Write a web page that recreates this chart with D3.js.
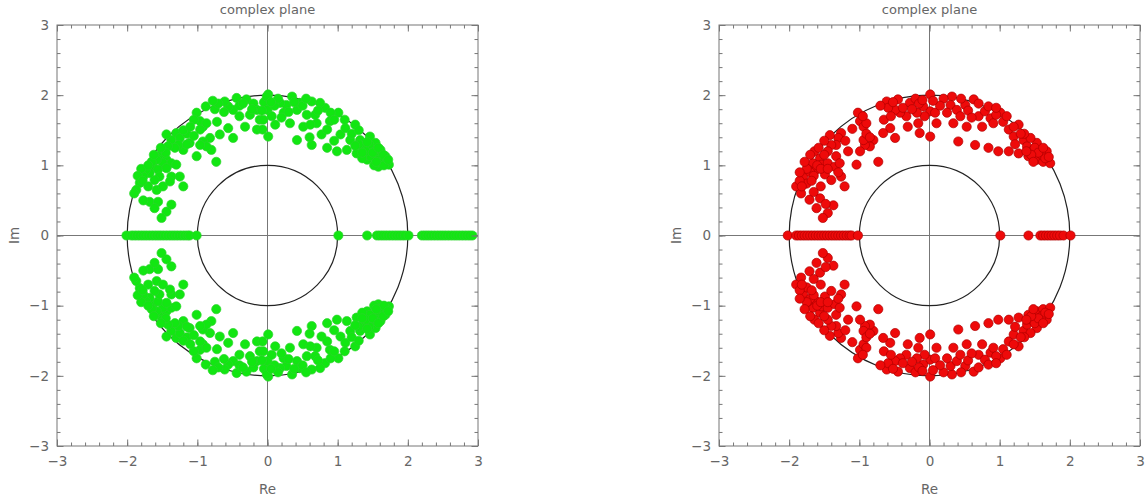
<!DOCTYPE html>
<html>
<head>
<meta charset="utf-8">
<script src="https://cdn.jsdelivr.net/npm/d3@7"></script>
<style>
  body { margin: 0; background: #fff; }
  svg { display: block; }
</style>
</head>
<body>
<svg id="chart" width="1146" height="504"></svg>
<script>
// roots, upper half plane (green panel)
const greenUpper = [
  [0.01,2.01],[-0.01,1.84],[0.01,1.41],[-0.15,1.79],[-0.11,1.65],[-0.15,1.51],[-0.30,1.94],[-0.25,1.72],
  [-0.32,1.55],[-0.44,1.96],[-0.49,1.79],[-0.49,1.39],[-0.56,1.84],[-0.61,1.91],[-0.56,1.53],[-0.68,1.44],
  [-0.73,1.05],[-0.82,1.39],[-0.80,1.22],[-0.92,1.34],[-0.87,1.27],[-0.96,1.29],[-1.01,1.13],[-0.92,1.55],
  [-0.96,1.63],[-1.01,1.75],[-0.87,1.60],[-0.96,1.51],[-1.11,1.32],[-1.20,1.22],[-1.30,1.46],[-1.25,1.39],
  [-1.37,1.36],[-1.27,1.29],[-1.32,1.25],[-1.42,1.27],[-1.44,1.44],[-1.54,1.13],[-1.44,1.08],[-1.49,1.03],
  [-1.58,1.08],[-1.37,1.03],[-1.30,1.01],[-1.63,0.98],[-1.56,0.94],[-1.44,0.96],[-1.25,0.84],[-1.37,0.84],
  [-1.20,0.70],[-1.54,0.84],[-1.61,0.79],[-1.68,0.89],[-1.73,0.94],[-1.77,0.84],[-1.82,0.75],[-1.70,0.70],
  [-1.58,0.65],[-1.49,0.70],[-1.39,0.77],[-1.87,0.65],[-1.68,0.48],[-1.56,0.48],[-1.37,0.44],[-1.44,0.34],
  [-1.51,0.25],[-1.61,0.39],[-1.77,0.50],[-1.15,1.45],[-1.20,1.50],[-1.05,1.65],[-0.75,1.80],[-0.70,1.88],
  [-0.40,1.85],[-0.20,1.88],[-0.05,1.90],[-1.50,1.20],[-1.65,1.05],[-1.80,0.95],[-1.85,0.85],
  [-0.01,1.98],[0.00,1.79],[0.06,1.70],[0.11,1.58],[-0.07,1.51],[0.35,1.98],[0.27,1.86],[0.42,1.79],
  [0.32,1.60],[0.42,1.36],[0.51,1.55],[0.56,1.72],[0.63,1.91],[0.63,1.29],[0.70,1.60],[0.77,1.44],
  [0.82,1.82],[0.85,1.25],[0.89,1.63],[0.99,1.20],[1.01,1.75],[1.04,1.44],[1.11,1.53],[1.13,1.22],
  [1.18,1.36],[1.25,1.58],[1.27,1.17],[1.32,1.36],[1.37,1.25],[1.42,1.08],[1.46,1.41],[1.51,1.27],
  [1.56,1.13],[1.61,1.03],[1.68,1.13],[1.73,1.01],[1.46,1.13],[1.35,1.10],[1.54,1.32],[1.61,1.22],
  [0.18,1.89],[0.23,1.75],[0.61,1.58],[0.46,1.89],[0.75,1.89],[0.68,1.72],[0.85,1.51],[-0.06,1.65],
  [0.10,1.85],[0.15,1.95],[0.50,1.85],[0.90,1.75],[1.20,1.45],[1.45,1.30],[1.62,1.10],[1.70,1.05],
  [1.58,0.98],[1.52,1.00],[1.66,1.00],[1.40,1.20],[1.30,1.30],
  [-0.35,1.88],[-0.22,1.80],[-0.08,1.78],[0.05,1.90],[0.20,1.68],[0.30,1.76],[0.38,1.90],[-0.40,1.70],
  [-0.62,1.76],[-0.72,1.62],[-0.78,1.92],[-0.88,1.84],[-1.10,1.55],[-1.05,1.42],[-1.15,1.30],[-1.45,1.18],
  [-1.52,1.25],[-1.62,1.15],[-1.70,1.00],[-1.78,0.78],[-1.90,0.60],[0.55,1.95],[0.72,1.78],[0.95,1.65],
  [1.10,1.65],[1.30,1.50],[1.50,1.18],[1.55,1.05],[1.65,1.15],[1.72,1.08],[1.42,1.33],[1.35,1.18],
  [1.25,1.28],[1.58,1.25],[0.95,1.35],[0.60,1.40]
];
const greenLower = [
  [0.01,-2.01],[-0.01,-1.84],[0.01,-1.41],[-0.15,-1.79],[-0.11,-1.65],[-0.15,-1.51],[-0.30,-1.94],[-0.25,-1.72],
  [-0.32,-1.55],[-0.44,-1.96],[-0.49,-1.79],[-0.49,-1.39],[-0.56,-1.84],[-0.61,-1.91],[-0.56,-1.53],[-0.68,-1.44],
  [-0.73,-1.05],[-0.82,-1.39],[-0.80,-1.22],[-0.92,-1.34],[-0.87,-1.27],[-0.96,-1.29],[-1.01,-1.13],[-0.92,-1.55],
  [-0.96,-1.63],[-1.01,-1.75],[-0.87,-1.60],[-0.96,-1.51],[-1.11,-1.32],[-1.20,-1.22],[-1.30,-1.46],[-1.25,-1.39],
  [-1.37,-1.36],[-1.27,-1.29],[-1.32,-1.25],[-1.42,-1.27],[-1.44,-1.44],[-1.54,-1.13],[-1.44,-1.08],[-1.49,-1.03],
  [-1.58,-1.08],[-1.37,-1.03],[-1.30,-1.01],[-1.63,-0.98],[-1.56,-0.94],[-1.44,-0.96],[-1.25,-0.84],[-1.37,-0.84],
  [-1.20,-0.70],[-1.54,-0.84],[-1.61,-0.79],[-1.68,-0.89],[-1.73,-0.94],[-1.77,-0.84],[-1.82,-0.75],[-1.70,-0.70],
  [-1.58,-0.65],[-1.49,-0.70],[-1.39,-0.77],[-1.87,-0.65],[-1.68,-0.48],[-1.56,-0.48],[-1.37,-0.44],[-1.44,-0.34],
  [-1.51,-0.25],[-1.61,-0.39],[-1.77,-0.50],[-1.15,-1.45],[-1.20,-1.50],[-1.05,-1.65],[-0.75,-1.80],[-0.70,-1.88],
  [-0.40,-1.85],[-0.20,-1.88],[-0.05,-1.90],[-1.50,-1.20],[-1.65,-1.05],[-1.80,-0.95],[-1.85,-0.85],
  [-0.01,-1.98],[0.00,-1.79],[0.06,-1.70],[0.11,-1.58],[-0.07,-1.51],[0.35,-1.98],[0.27,-1.86],[0.42,-1.79],
  [0.32,-1.60],[0.42,-1.36],[0.51,-1.55],[0.56,-1.72],[0.63,-1.91],[0.63,-1.29],[0.70,-1.60],[0.77,-1.44],
  [0.82,-1.82],[0.85,-1.25],[0.89,-1.63],[0.99,-1.20],[1.01,-1.75],[1.04,-1.44],[1.11,-1.53],[1.13,-1.22],
  [1.18,-1.36],[1.25,-1.58],[1.27,-1.17],[1.32,-1.36],[1.37,-1.25],[1.42,-1.08],[1.46,-1.41],[1.51,-1.27],
  [1.56,-1.13],[1.61,-1.03],[1.68,-1.13],[1.73,-1.01],[1.46,-1.13],[1.35,-1.10],[1.54,-1.32],[1.61,-1.22],
  [0.18,-1.89],[0.23,-1.75],[0.61,-1.58],[0.46,-1.89],[0.75,-1.89],[0.68,-1.72],[0.85,-1.51],[-0.06,-1.65],
  [0.10,-1.85],[0.15,-1.95],[0.50,-1.85],[0.90,-1.75],[1.20,-1.45],[1.45,-1.30],[1.62,-1.10],[1.70,-1.05],
  [1.58,-0.98],[1.52,-1.00],[1.66,-1.00],[1.40,-1.20],[1.30,-1.30],
  [-0.35,-1.88],[-0.22,-1.80],[-0.08,-1.78],[0.05,-1.90],[0.20,-1.68],[0.30,-1.76],[0.38,-1.90],[-0.40,-1.70],
  [-0.62,-1.76],[-0.72,-1.62],[-0.78,-1.92],[-0.88,-1.84],[-1.10,-1.55],[-1.05,-1.42],[-1.15,-1.30],[-1.45,-1.18],
  [-1.52,-1.25],[-1.62,-1.15],[-1.70,-1.00],[-1.78,-0.78],[-1.90,-0.60],[0.55,-1.95],[0.72,-1.78],[0.95,-1.65],
  [1.10,-1.65],[1.30,-1.50],[1.50,-1.18],[1.55,-1.05],[1.65,-1.15],[1.72,-1.08],[1.42,-1.33],[1.35,-1.18],
  [1.25,-1.28],[1.58,-1.25],[0.95,-1.35],[0.60,-1.40]
];
// real roots (green panel)
const greenReal = [
  -2.01,-1.94,-1.90,-1.86,-1.82,-1.78,-1.74,-1.70,-1.66,-1.62,-1.58,-1.54,-1.50,-1.46,-1.42,
  -1.38,-1.34,-1.30,-1.26,-1.22,-1.18,-1.14,-1.11,-1.01,
  1.01,1.42,1.56,1.60,1.64,1.68,1.72,1.76,1.80,1.84,1.88,1.92,1.96,2.01,
  2.20,2.24,2.28,2.32,2.36,2.40,2.44,2.48,2.52,2.56,2.60,2.64,2.68,2.72,2.76,2.80,2.84,2.88,2.92
];

// roots, upper half plane (red panel)
const redUpper = [
  [0.01,2.01],[0.01,1.77],[0.01,1.41],[-0.14,1.46],[-0.09,1.84],[-0.07,1.70],[-0.18,1.75],[-0.28,1.89],
  [-0.31,1.55],[-0.33,1.70],[-0.42,1.75],[-0.45,1.94],[-0.49,1.79],[-0.61,1.91],[-0.59,1.82],[-0.56,1.53],
  [-0.49,1.39],[-0.66,1.46],[-0.73,1.05],[-0.80,1.36],[-0.85,1.27],[-0.92,1.29],[-0.94,1.36],[-0.99,1.20],
  [-1.04,1.01],[-1.02,1.75],[-0.99,1.63],[-0.94,1.55],[-0.90,1.60],[-1.16,1.20],[-1.26,1.46],[-1.30,1.39],
  [-1.33,1.29],[-1.42,1.43],[-1.40,1.29],[-1.33,1.13],[-1.64,1.20],[-1.56,1.10],[-1.66,1.03],[-1.54,1.01],
  [-1.45,1.03],[-1.35,0.98],[-1.28,1.03],[-1.73,0.94],[-1.61,0.94],[-1.49,0.87],[-1.40,0.79],[-1.26,0.84],
  [-1.21,0.70],[-1.80,0.84],[-1.90,0.70],[-1.83,0.60],[-1.71,0.51],[-1.56,0.53],[-1.61,0.39],[-1.45,0.32],
  [-1.37,0.43],[-1.52,0.25],[-1.75,0.74],[-0.20,1.95],[-0.15,1.88],[-0.65,1.65],[-0.55,1.70],[-0.38,1.82],
  [-0.90,1.45],[-0.85,1.40],[-1.45,1.20],[-1.50,1.15],[-1.60,1.00],[-1.70,0.90],[-1.75,0.95],[-1.85,0.78],
  [-1.82,0.70],[-1.65,0.85],[-1.55,0.95],
  [0.32,1.98],[0.30,1.86],[0.39,1.79],[0.34,1.60],[0.41,1.34],[0.44,1.70],[0.51,1.86],[0.53,1.55],
  [0.63,1.94],[0.65,1.29],[0.70,1.70],[0.75,1.55],[0.79,1.77],[0.84,1.84],[0.84,1.25],[0.87,1.67],
  [0.91,1.60],[0.98,1.20],[1.01,1.75],[1.13,1.20],[1.13,1.51],[1.20,1.41],[1.27,1.58],[1.27,1.17],
  [1.34,1.36],[1.39,1.27],[1.41,1.13],[1.48,1.22],[1.53,1.08],[1.58,1.17],[1.62,1.05],[1.67,1.20],
  [1.72,1.03],[1.53,1.32],[1.44,1.39],[-0.16,1.60],[0.10,1.60],[0.08,1.75],[0.20,1.95],[0.15,1.85],
  [0.55,1.78],[0.60,1.68],[0.95,1.72],[1.05,1.62],[1.20,1.55],[1.35,1.45],[1.50,1.25],[1.60,1.15],
  [1.65,1.10],[1.55,1.18],[1.45,1.15],
  [-0.25,1.80],[-0.10,1.93],[0.05,1.92],[0.25,1.75],[0.45,1.95],[0.70,1.88],[0.95,1.82],[1.10,1.70],
  [1.30,1.45],[1.62,1.25],[1.70,1.12],[1.48,1.05],[1.38,1.20],[1.22,1.30],[-0.52,1.90],[-0.70,1.85],
  [-0.95,1.70],[-1.10,1.52],[-1.20,1.35],[-1.50,1.35],[-1.58,1.25],[-1.70,1.15],[-1.78,1.05],[-1.85,0.90],
  [-1.68,0.78],[-1.45,0.95],[-1.30,0.90],[-1.55,0.70],[-1.65,0.62],[-1.48,0.45]
];
const redLower = [
  [0.01,-2.01],[0.01,-1.77],[0.01,-1.41],[-0.14,-1.46],[-0.09,-1.84],[-0.07,-1.70],[-0.18,-1.75],[-0.28,-1.89],
  [-0.31,-1.55],[-0.33,-1.70],[-0.42,-1.75],[-0.45,-1.94],[-0.49,-1.79],[-0.61,-1.91],[-0.59,-1.82],[-0.56,-1.53],
  [-0.49,-1.39],[-0.66,-1.46],[-0.73,-1.05],[-0.80,-1.36],[-0.85,-1.27],[-0.92,-1.29],[-0.94,-1.36],[-0.99,-1.20],
  [-1.04,-1.01],[-1.02,-1.75],[-0.99,-1.63],[-0.94,-1.55],[-0.90,-1.60],[-1.16,-1.20],[-1.26,-1.46],[-1.30,-1.39],
  [-1.33,-1.29],[-1.42,-1.43],[-1.40,-1.29],[-1.33,-1.13],[-1.64,-1.20],[-1.56,-1.10],[-1.66,-1.03],[-1.54,-1.01],
  [-1.45,-1.03],[-1.35,-0.98],[-1.28,-1.03],[-1.73,-0.94],[-1.61,-0.94],[-1.49,-0.87],[-1.40,-0.79],[-1.26,-0.84],
  [-1.21,-0.70],[-1.80,-0.84],[-1.90,-0.70],[-1.83,-0.60],[-1.71,-0.51],[-1.56,-0.53],[-1.61,-0.39],[-1.45,-0.32],
  [-1.37,-0.43],[-1.52,-0.25],[-1.75,-0.74],[-0.20,-1.95],[-0.15,-1.88],[-0.65,-1.65],[-0.55,-1.70],[-0.38,-1.82],
  [-0.90,-1.45],[-0.85,-1.40],[-1.45,-1.20],[-1.50,-1.15],[-1.60,-1.00],[-1.70,-0.90],[-1.75,-0.95],[-1.85,-0.78],
  [-1.82,-0.70],[-1.65,-0.85],[-1.55,-0.95],
  [0.32,-1.98],[0.30,-1.86],[0.39,-1.79],[0.34,-1.60],[0.41,-1.34],[0.44,-1.70],[0.51,-1.86],[0.53,-1.55],
  [0.63,-1.94],[0.65,-1.29],[0.70,-1.70],[0.75,-1.55],[0.79,-1.77],[0.84,-1.84],[0.84,-1.25],[0.87,-1.67],
  [0.91,-1.60],[0.98,-1.20],[1.01,-1.75],[1.13,-1.20],[1.13,-1.51],[1.20,-1.41],[1.27,-1.58],[1.27,-1.17],
  [1.34,-1.36],[1.39,-1.27],[1.41,-1.13],[1.48,-1.22],[1.53,-1.08],[1.58,-1.17],[1.62,-1.05],[1.67,-1.20],
  [1.72,-1.03],[1.53,-1.32],[1.44,-1.39],[-0.16,-1.60],[0.10,-1.60],[0.08,-1.75],[0.20,-1.95],[0.15,-1.85],
  [0.55,-1.78],[0.60,-1.68],[0.95,-1.72],[1.05,-1.62],[1.20,-1.55],[1.35,-1.45],[1.50,-1.25],[1.60,-1.15],
  [1.65,-1.10],[1.55,-1.18],[1.45,-1.15],
  [-0.25,-1.80],[-0.10,-1.93],[0.05,-1.92],[0.25,-1.75],[0.45,-1.95],[0.70,-1.88],[0.95,-1.82],[1.10,-1.70],
  [1.30,-1.45],[1.62,-1.25],[1.70,-1.12],[1.48,-1.05],[1.38,-1.20],[1.22,-1.30],[-0.52,-1.90],[-0.70,-1.85],
  [-0.95,-1.70],[-1.10,-1.52],[-1.20,-1.35],[-1.50,-1.35],[-1.58,-1.25],[-1.70,-1.15],[-1.78,-1.05],[-1.85,-0.90],
  [-1.68,-0.78],[-1.45,-0.95],[-1.30,-0.90],[-1.55,-0.70],[-1.65,-0.62],[-1.48,-0.45]
];
const redReal = [
  -2.02,-1.90,-1.86,-1.82,-1.78,-1.74,-1.70,-1.66,-1.62,-1.58,-1.54,-1.50,-1.46,-1.42,-1.38,
  -1.34,-1.30,-1.26,-1.22,-1.18,-1.14,-1.11,-1.02,
  1.01,1.41,1.58,1.62,1.66,1.70,1.74,1.78,1.82,1.86,1.91,2.01
];

const majorTicks = [-3, -2, -1, 0, 1, 2, 3];
const minorTicks = d3.range(-3, 3.001, 0.2);
const refCircles = [1, 2];

const svg = d3.select("#chart");
const fontFamily = "'DejaVu Sans', sans-serif";
const textColor = "#666";

function drawPanel(left, points, real, fill, edge) {
  const top = 25, size = 421;
  const x = d3.scaleLinear().domain([-3, 3]).range([left, left + size]);
  const y = d3.scaleLinear().domain([-3, 3]).range([top + size, top]);
  const g = svg.append("g");

  // axes through origin
  g.append("line").attr("x1", x(-3)).attr("x2", x(3)).attr("y1", y(0)).attr("y2", y(0))
    .attr("stroke", "#777").attr("stroke-width", 1);
  g.append("line").attr("x1", x(0)).attr("x2", x(0)).attr("y1", y(-3)).attr("y2", y(3))
    .attr("stroke", "#777").attr("stroke-width", 1);

  g.selectAll("circle.ref").data(refCircles).enter().append("circle")
    .attr("class", "ref")
    .attr("cx", x(0)).attr("cy", y(0))
    .attr("r", d => x(d) - x(0))
    .attr("fill", "none").attr("stroke", "#222").attr("stroke-width", 1.2);

  const all = points.concat(real.map(v => [v, 0]));
  g.selectAll("circle.pt").data(all).enter().append("circle")
    .attr("class", "pt")
    .attr("cx", d => x(d[0])).attr("cy", d => y(d[1]))
    .attr("r", 4.6)
    .attr("fill", fill).attr("stroke", edge).attr("stroke-width", 0.7);

  // frame
  g.append("rect").attr("x", x(-3)).attr("y", y(3))
    .attr("width", size).attr("height", size)
    .attr("fill", "none").attr("stroke", "#777").attr("stroke-width", 1);

  const ticks = (axisGen, transform) => {
    const a = g.append("g").attr("transform", transform).call(axisGen);
    a.select(".domain").remove();
    a.selectAll("line").attr("stroke", "#777");
    a.selectAll("text").attr("fill", textColor).style("font-family", fontFamily).style("font-size", "13.5px");
    return a;
  };
  const fmt = d => d < 0 ? "\u2212" + Math.abs(d) : String(d);

  // minor ticks (all four sides)
  ticks(d3.axisBottom(x).tickValues(minorTicks).tickSize(-3.5).tickFormat(""), `translate(0,${y(-3)})`);
  ticks(d3.axisTop(x).tickValues(minorTicks).tickSize(-3.5).tickFormat(""), `translate(0,${y(3)})`);
  ticks(d3.axisLeft(y).tickValues(minorTicks).tickSize(-3.5).tickFormat(""), `translate(${x(-3)},0)`);
  ticks(d3.axisRight(y).tickValues(minorTicks).tickSize(-3.5).tickFormat(""), `translate(${x(3)},0)`);
  // major ticks
  ticks(d3.axisBottom(x).tickValues(majorTicks).tickSize(-6.5).tickPadding(10).tickFormat(fmt), `translate(0,${y(-3)})`);
  ticks(d3.axisTop(x).tickValues(majorTicks).tickSize(-6.5).tickFormat(""), `translate(0,${y(3)})`);
  ticks(d3.axisLeft(y).tickValues(majorTicks).tickSize(-6.5).tickPadding(8).tickFormat(fmt), `translate(${x(-3)},0)`);
  ticks(d3.axisRight(y).tickValues(majorTicks).tickSize(-6.5).tickFormat(""), `translate(${x(3)},0)`);

  g.append("text").attr("x", x(0)).attr("y", 14).attr("text-anchor", "middle")
    .attr("fill", textColor).style("font-family", fontFamily).style("font-size", "13px")
    .text("complex plane");
  g.append("text").attr("x", x(0)).attr("y", 494).attr("text-anchor", "middle")
    .attr("fill", textColor).style("font-family", fontFamily).style("font-size", "13.5px")
    .text("Re");
  g.append("text").attr("transform", `translate(${left - 38},${y(0)}) rotate(-90)`)
    .attr("text-anchor", "middle")
    .attr("fill", textColor).style("font-family", fontFamily).style("font-size", "13.5px")
    .text("Im");
}

drawPanel(57, greenUpper.concat(greenLower), greenReal, "#12e612", "#2bd42b");
drawPanel(719, redUpper.concat(redLower), redReal, "#ee0a0a", "#b00000");
</script>
</body>
</html>
